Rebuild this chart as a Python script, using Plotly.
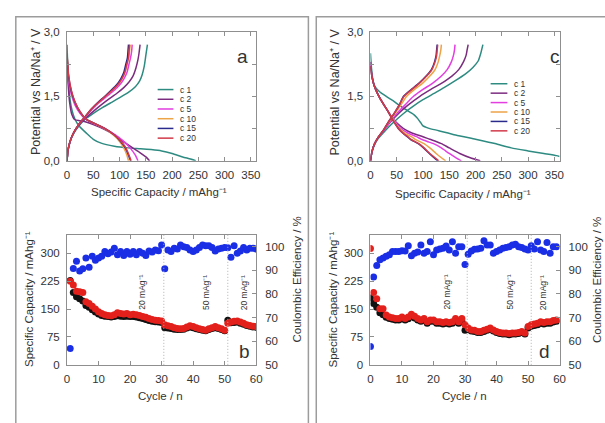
import plotly.graph_objects as go

# ---------------- galvanostatic profiles, electrode a ----------------
CYCLES = ["c 1", "c 2", "c 5", "c 10", "c 15", "c 20"]
COLORS = {"c 1": "#2e8b82", "c 2": "#7b2c7f", "c 5": "#e23ee0",
          "c 10": "#eda347", "c 15": "#2a2a8c", "c 20": "#d23a4a"}

A_DIS_Q = {
    "c 1": [0, 1, 3, 6, 10, 15, 22, 37, 50, 65, 90, 116, 140, 160, 180, 200, 220, 235, 245],
    "c 2": [0, 2, 5, 9, 14, 25, 36, 50, 71, 90, 103, 115, 125, 140, 150, 157],
    "c 5": [0, 3, 8, 15, 25, 36, 50, 71, 92, 108, 120, 130, 135],
    "c 10": [0, 3, 8, 15, 25, 36, 50, 70, 88, 100, 108, 114, 117],
    "c 15": [0, 3, 8, 15, 25, 36, 50, 71, 90, 102, 111, 117, 121],
    "c 20": [0, 3, 8, 15, 25, 36, 50, 71, 90, 103, 112, 118, 122],
}
A_DIS_V = {
    "c 1": [2.7, 2.3, 1.8, 1.4, 1.15, 0.97, 0.82, 0.64, 0.5, 0.41, 0.34, 0.3, 0.28, 0.26, 0.23, 0.17, 0.09, 0.04, 0.0],
    "c 2": [2.3, 1.8, 1.35, 1.08, 0.96, 0.93, 0.9, 0.84, 0.73, 0.6, 0.48, 0.38, 0.3, 0.18, 0.09, 0.0],
    "c 5": [2.4, 1.85, 1.55, 1.3, 1.1, 0.96, 0.87, 0.75, 0.6, 0.45, 0.3, 0.13, 0.0],
    "c 10": [2.45, 1.95, 1.62, 1.36, 1.13, 0.97, 0.88, 0.76, 0.6, 0.45, 0.3, 0.13, 0.0],
    "c 15": [2.45, 1.95, 1.62, 1.36, 1.13, 0.97, 0.88, 0.76, 0.6, 0.45, 0.3, 0.13, 0.0],
    "c 20": [2.5, 2.0, 1.65, 1.38, 1.14, 0.97, 0.88, 0.76, 0.6, 0.45, 0.3, 0.13, 0.0],
}
A_CH_Q = {
    "c 1": [0, 2, 6, 12, 22, 35, 50, 68, 85, 102, 118, 130, 138, 143, 147, 150, 153],
    "c 2": [0, 2, 6, 12, 22, 35, 50, 65, 80, 95, 108, 118, 126, 131, 135, 137, 139],
    "c 5": [0, 2, 6, 12, 22, 35, 48, 62, 76, 90, 100, 108, 114, 118, 121, 123, 124],
    "c 10": [0, 2, 6, 12, 22, 34, 46, 60, 73, 86, 96, 104, 110, 114, 117, 119, 120],
    "c 15": [0, 2, 6, 12, 22, 34, 46, 59, 72, 84, 94, 102, 108, 112, 115, 116, 117],
    "c 20": [0, 2, 6, 12, 22, 34, 46, 60, 73, 86, 96, 104, 110, 114, 117, 118, 119],
}
A_CH_V = {
    "c 1": [0, 0.25, 0.45, 0.62, 0.8, 0.97, 1.1, 1.24, 1.36, 1.48, 1.6, 1.72, 1.85, 2.0, 2.2, 2.45, 2.7],
    "c 2": [0, 0.25, 0.45, 0.63, 0.82, 0.99, 1.15, 1.3, 1.44, 1.57, 1.7, 1.83, 1.98, 2.15, 2.35, 2.5, 2.7],
    "c 5": [0, 0.26, 0.46, 0.64, 0.84, 1.02, 1.2, 1.36, 1.5, 1.64, 1.76, 1.9, 2.05, 2.25, 2.4, 2.55, 2.7],
    "c 10": [0, 0.26, 0.46, 0.64, 0.84, 1.02, 1.2, 1.36, 1.5, 1.64, 1.76, 1.9, 2.05, 2.25, 2.4, 2.55, 2.7],
    "c 15": [0, 0.26, 0.46, 0.64, 0.84, 1.02, 1.2, 1.36, 1.5, 1.64, 1.76, 1.9, 2.05, 2.25, 2.4, 2.55, 2.7],
    "c 20": [0, 0.26, 0.46, 0.64, 0.84, 1.02, 1.2, 1.36, 1.5, 1.64, 1.76, 1.9, 2.05, 2.25, 2.4, 2.55, 2.7],
}

# ---------------- galvanostatic profiles, electrode c ----------------
C_DIS_Q = {
    "c 1": [0, 2, 5, 10, 18, 26, 40, 57, 70, 82, 90, 96, 100, 110, 130, 162, 200, 237, 268, 300, 330, 354, 360],
    "c 2": [0, 3, 7, 14, 23, 32, 41, 52, 63, 80, 100, 113, 125, 135, 150, 170, 190, 209],
    "c 5": [0, 3, 7, 14, 23, 32, 41, 50, 58, 72, 88, 97, 108, 120, 135, 150, 163, 173],
    "c 10": [0, 3, 7, 14, 23, 32, 41, 48, 55, 66, 78, 85, 93, 102, 113, 125, 135, 143],
    "c 15": [0, 3, 7, 14, 23, 32, 40, 47, 53, 62, 70, 76, 83, 91, 101, 112, 121, 128],
    "c 20": [0, 3, 7, 14, 23, 32, 40, 47, 53, 62, 71, 77, 84, 92, 102, 113, 123, 130],
}
C_DIS_V = {
    "c 1": [2.5, 2.15, 1.85, 1.7, 1.6, 1.53, 1.42, 1.27, 1.17, 1.08, 0.98, 0.88, 0.81, 0.76, 0.7, 0.6, 0.5, 0.4, 0.3, 0.23, 0.17, 0.12, 0.1],
    "c 2": [2.3, 1.95, 1.75, 1.55, 1.35, 1.18, 1.0, 0.86, 0.75, 0.64, 0.56, 0.5, 0.45, 0.4, 0.3, 0.17, 0.07, 0.0],
    "c 5": [2.25, 1.95, 1.75, 1.55, 1.35, 1.18, 1.0, 0.86, 0.75, 0.64, 0.56, 0.5, 0.45, 0.4, 0.3, 0.17, 0.07, 0.0],
    "c 10": [2.2, 1.95, 1.75, 1.55, 1.35, 1.18, 1.0, 0.86, 0.75, 0.64, 0.56, 0.5, 0.45, 0.4, 0.3, 0.17, 0.07, 0.0],
    "c 15": [2.2, 1.95, 1.75, 1.55, 1.35, 1.18, 1.0, 0.86, 0.75, 0.64, 0.56, 0.5, 0.45, 0.4, 0.3, 0.17, 0.07, 0.0],
    "c 20": [2.2, 1.95, 1.75, 1.55, 1.35, 1.18, 1.0, 0.86, 0.75, 0.64, 0.56, 0.5, 0.45, 0.4, 0.3, 0.17, 0.07, 0.0],
}
C_CH_Q = {
    "c 1": [0, 3, 8, 15, 25, 40, 63, 85, 100, 120, 140, 160, 181, 195, 205, 210, 214],
    "c 2": [0, 3, 8, 15, 25, 38, 55, 72, 94, 115, 135, 155, 168, 177, 182, 184, 186],
    "c 5": [0, 3, 8, 15, 25, 37, 52, 66, 82, 100, 118, 135, 146, 154, 158, 160, 161],
    "c 10": [0, 3, 8, 15, 24, 35, 48, 58, 69, 84, 99, 113, 123, 129, 132, 134, 135],
    "c 15": [0, 3, 8, 15, 24, 34, 46, 55, 63, 78, 92, 106, 116, 122, 125, 126, 127],
    "c 20": [0, 3, 8, 15, 24, 34, 46, 55, 64, 79, 93, 107, 117, 123, 126, 127, 128],
}
C_CH_V = {
    "c 1": [0, 0.2, 0.38, 0.52, 0.66, 0.85, 1.1, 1.3, 1.42, 1.56, 1.7, 1.85, 2.02, 2.17, 2.32, 2.5, 2.7],
    "c 2": [0, 0.22, 0.4, 0.55, 0.7, 0.9, 1.12, 1.3, 1.5, 1.66, 1.8, 1.97, 2.12, 2.3, 2.45, 2.58, 2.7],
    "c 5": [0, 0.22, 0.4, 0.55, 0.7, 0.9, 1.12, 1.3, 1.5, 1.66, 1.8, 1.97, 2.12, 2.3, 2.45, 2.58, 2.7],
    "c 10": [0, 0.22, 0.4, 0.55, 0.7, 0.9, 1.12, 1.3, 1.5, 1.66, 1.8, 1.97, 2.12, 2.3, 2.45, 2.58, 2.7],
    "c 15": [0, 0.22, 0.4, 0.55, 0.7, 0.9, 1.12, 1.3, 1.5, 1.66, 1.8, 1.97, 2.12, 2.3, 2.45, 2.58, 2.7],
    "c 20": [0, 0.22, 0.4, 0.55, 0.7, 0.9, 1.12, 1.3, 1.5, 1.66, 1.8, 1.97, 2.12, 2.3, 2.45, 2.58, 2.7],
}

# ---------------- cycling, electrode b ----------------
B_CYCLE = list(range(1, 61))
B_DISCHARGE = [227, 195, 183, 178, 172, 160, 155, 148, 142, 137,
               133, 131, 130, 129, 130, 132, 131, 130, 131, 130,
               130, 129, 127, 125, 122, 119, 117, 116, 115, 114,
               100, 99, 98, 96, 95, 95, 96, 99, 102, 100,
               97, 95, 93, 92, 95, 98, 100, 98, 95, 92,
               120, 113, 114, 115, 112, 109, 106, 104, 102, 101]
B_CHARGE = [225, 215, 198, 197, 195, 170, 165, 158, 150, 143,
            138, 135, 133, 132, 135, 140, 138, 137, 138, 135,
            136, 135, 133, 130, 128, 125, 122, 120, 119, 118,
            108, 105, 103, 100, 98, 97, 98, 102, 105, 103,
            100, 97, 95, 93, 97, 100, 103, 100, 97, 93,
            112, 115, 117, 118, 115, 112, 108, 106, 104, 103]
B_EFF = [56.9, 90.8, 93.8, 89.7, 90.6, 95.2, 91.3, 95.9, 94.2, 95.2,
         95.9, 97.9, 97.0, 97.7, 99.3, 96.6, 97.9, 96.3, 97.9, 96.8,
         97.9, 96.6, 97.9, 97.2, 96.3, 98.2, 97.7, 98.6, 98.3, 100.7,
         90.6, 98.6, 97.9, 99.3, 99.0, 100.7, 100.0, 99.6, 98.6, 97.9,
         98.6, 99.6, 100.7, 100.4, 100.4, 99.6, 98.2, 99.0, 99.3, 99.6,
         99.5, 95.5, 100.4, 97.2, 98.2, 99.6, 98.6, 99.3, 99.3, 99.0]

# ---------------- cycling, electrode d ----------------
D_CYCLE = list(range(0, 60))
D_DISCHARGE = [180, 165, 155, 140, 135, 128, 125, 123, 121, 121,
               124, 121, 124, 130, 126, 121, 117, 121, 112, 117,
               117, 112, 112, 110, 112, 110, 112, 117, 112, 117,
               93, 95, 91, 90, 87, 87, 90, 93, 96, 91,
               87, 84, 83, 83, 81, 83, 83, 84, 87, 83,
               99, 104, 106, 108, 112, 110, 112, 112, 115, 117]
D_CHARGE = [313, 195, 178, 151, 151, 134, 129, 127, 125, 125,
            129, 125, 129, 136, 131, 125, 121, 125, 116, 121,
            121, 116, 116, 114, 116, 114, 116, 125, 116, 125,
            108, 99, 94, 93, 90, 90, 93, 96, 99, 94,
            90, 87, 86, 86, 84, 86, 86, 87, 90, 86,
            103, 108, 110, 112, 116, 114, 116, 116, 119, 121]
D_EFF = [57.7, 87.2, 92.0, 94.5, 95.2, 95.9, 96.6, 97.9, 97.9, 97.9,
         98.3, 98.2, 100.4, 96.1, 97.2, 97.7, 100.7, 97.2, 97.9, 102.1,
         96.6, 98.6, 99.0, 99.3, 100.3, 98.6, 102.1, 97.2, 100.0, 100.0,
         92.4, 96.8, 98.2, 98.9, 99.0, 99.3, 102.5, 100.7, 100.7, 97.2,
         97.9, 98.6, 99.3, 99.6, 100.0, 100.7, 101.0, 100.0, 99.6, 99.0,
         98.6, 100.4, 99.0, 102.1, 98.6, 97.9, 101.8, 97.2, 100.0, 100.0]

# current-density steps
STEP_BOUNDS = [30.7, 51]
STEP_LABELS = ["20 mAg⁻¹", "50 mAg⁻¹", "20 mAg⁻¹"]
B_LABEL_X = [23.9, 44.3, 56.4]
D_LABEL_X = [24.3, 44.3, 55.0]

W, H = 605, 423
FONT = "Liberation Sans, Arial, sans-serif"
AX_GREY = "#8f8f8f"
TXT = "#333333"


def px(x):
    return x / W


def py(y):
    return 1 - y / H


X_LEFT = [px(65), px(257)]
X_RIGHT = [px(373), px(565)]
Y_TOP = [py(159.3), py(26.5)]
Y_BOT = [py(369.3), py(235.5)]

fig = go.Figure()


def add_profiles(dq, dv, cq, cv, xa, ya):
    for c in CYCLES:
        fig.add_trace(go.Scatter(
            x=dq[c] + [None] + cq[c], y=dv[c] + [None] + cv[c],
            mode="lines", line=dict(color=COLORS[c], width=1.5, shape="spline", smoothing=0.6),
            xaxis=xa, yaxis=ya, showlegend=False, connectgaps=False, name=c))


add_profiles(A_DIS_Q, A_DIS_V, A_CH_Q, A_CH_V, "x", "y")
add_profiles(C_DIS_Q, C_DIS_V, C_CH_Q, C_CH_V, "x3", "y4")


def add_cycling(cyc, dis, ch, eff, xa, ya, ya2):
    mk = dict(size=7, line=dict(width=0))
    fig.add_trace(go.Scatter(x=cyc, y=dis, mode="markers", marker=dict(color="#111111", **mk),
                             xaxis=xa, yaxis=ya, showlegend=False))
    fig.add_trace(go.Scatter(x=cyc, y=ch, mode="markers", marker=dict(color="#e3201b", **mk),
                             xaxis=xa, yaxis=ya, showlegend=False))
    fig.add_trace(go.Scatter(x=cyc, y=eff, mode="markers", marker=dict(color="#1a2ee6", **mk),
                             xaxis=xa, yaxis=ya2, showlegend=False))


add_cycling(B_CYCLE, B_DISCHARGE, B_CHARGE, B_EFF, "x2", "y2", "y3")
add_cycling(D_CYCLE, D_DISCHARGE, D_CHARGE, D_EFF, "x4", "y5", "y6")

base = dict(showline=True, linecolor=AX_GREY, linewidth=1, ticks="inside", ticklen=4,
            tickcolor=AX_GREY, showgrid=False, zeroline=False,
            tickfont=dict(family=FONT, size=11.5, color=TXT))
base_noline = {k: v for k, v in base.items() if k != "showline"}

v_ticks = dict(range=[0, 3], tickvals=[0, 0.75, 1.5, 2.25, 3],
               ticktext=["0,0", " ", "1,5", " ", "3,0"], mirror="ticks", ticklabelstandoff=4)
q_ticks = dict(range=[0, 360], tickvals=[0, 50, 100, 150, 200, 250, 300, 350],
               mirror="ticks", ticklabelstandoff=3)
n_ticks = dict(range=[0, 60], tickvals=[0, 10, 20, 30, 40, 50, 60], mirror="ticks", ticklabelstandoff=3)
cap_ticks = dict(range=[0, 350], tickvals=[0, 75, 150, 225, 300], mirror=True, ticklabelstandoff=4)
eff_ticks = dict(range=[50, 105], tickvals=[50, 60, 70, 80, 90, 100], side="right",
                 showline=False, ticklabelstandoff=8)

fig.update_layout(
    xaxis=dict(domain=X_LEFT, anchor="y", **q_ticks, **base),
    yaxis=dict(domain=Y_TOP, anchor="x", **v_ticks, **base),
    xaxis2=dict(domain=X_LEFT, anchor="y2", **n_ticks, **base),
    yaxis2=dict(domain=Y_BOT, anchor="x2", **cap_ticks, **base),
    yaxis3=dict(overlaying="y2", anchor="x2", **eff_ticks, **base_noline),
    xaxis3=dict(domain=X_RIGHT, anchor="y4", **q_ticks, **base),
    yaxis4=dict(domain=Y_TOP, anchor="x3", **v_ticks, **base),
    xaxis4=dict(domain=X_RIGHT, anchor="y5", **n_ticks, **base),
    yaxis5=dict(domain=Y_BOT, anchor="x4", **cap_ticks, **base),
    yaxis6=dict(overlaying="y5", anchor="x4", **eff_ticks, **base_noline),
)

shapes = []
annots = []

# panel frames
for x0, x1 in [(13, 310), (318, 612)]:
    shapes.append(dict(type="rect", xref="paper", yref="paper", x0=px(x0), x1=px(x1),
                       y0=py(430), y1=py(11), line=dict(color="#9c9c9c", width=1.5)))

# current step boundaries
for xa, ya in [("x2", "y2"), ("x4", "y5")]:
    for b in STEP_BOUNDS:
        shapes.append(dict(type="line", xref=xa, yref=ya + " domain", x0=b, x1=b, y0=0, y1=1,
                           line=dict(color="#b0b0b0", width=1, dash="1px,2px")))


def note(text, x, y, size=11.5, angle=0, xanchor="center", yanchor="middle"):
    annots.append(dict(text=text, xref="paper", yref="paper", x=px(x), y=py(y), showarrow=False,
                       textangle=angle, xanchor=xanchor, yanchor=yanchor,
                       font=dict(family=FONT, size=size, color=TXT)))


cap_title = "Specific Capacity / mAhg⁻¹"
pot_title = "Potential vs Na/Na⁺ / V"
note(pot_title, 33, 88, size=12.5, angle=-90)
note(cap_title, 158, 191.5)
note(pot_title, 337, 88, size=12.5, angle=-90)
note(cap_title, 467, 193)
note(cap_title, 27, 302, angle=-90)
note("Coulombic Efficiency / %", 298, 282, angle=-90)
note("Cycle / n", 160, 401.5)
note(cap_title, 335, 302, angle=-90)
note("Coulombic Efficiency / %", 603, 282, angle=-90)
note("Cycle / n", 468, 401.5)

# panel letters
for t, x, y in [("a", 243, 52), ("c", 560, 52), ("b", 245, 356), ("d", 550, 356)]:
    note(t, x, y, size=19)

# step labels
for xa, ya, xs in [("x2", "y2", B_LABEL_X), ("x4", "y5", D_LABEL_X)]:
    for t, xv in zip(STEP_LABELS, xs):
        annots.append(dict(text=t, xref=xa, yref=ya, x=xv, y=195, showarrow=False, textangle=-90,
                           font=dict(family=FONT, size=8.5, color=TXT)))

# cycle keys
for (lx0, lx1, tx, y0, dy) in [(157, 173, 178, 86, 10), (495, 512, 517, 80, 9.7)]:
    for i, c in enumerate(CYCLES):
        yy = y0 + i * dy
        shapes.append(dict(type="line", xref="paper", yref="paper", x0=px(lx0), x1=px(lx1),
                           y0=py(yy), y1=py(yy), line=dict(color=COLORS[c], width=1.5)))
        note(c, tx, yy, size=8.5, xanchor="left")

fig.update_layout(width=W, height=H, margin=dict(l=0, r=0, t=0, b=0),
                  paper_bgcolor="white", plot_bgcolor="white",
                  shapes=shapes, annotations=annots, showlegend=False,
                  font=dict(family=FONT, color=TXT))

fig.write_html("out.html")
